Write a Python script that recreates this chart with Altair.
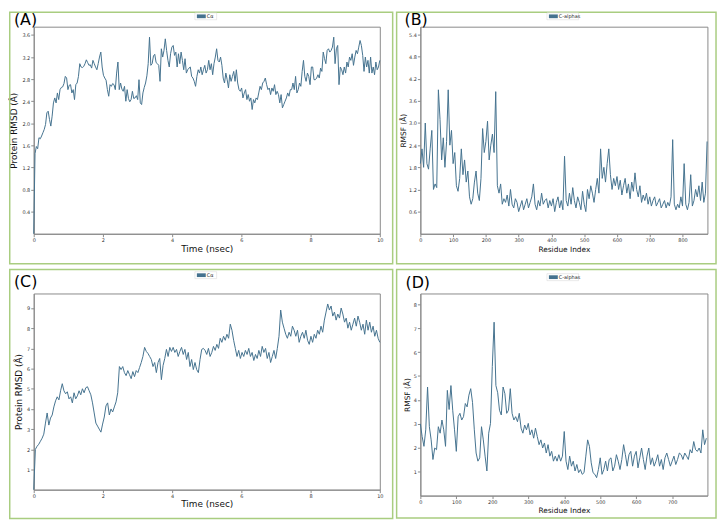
import altair as alt
import numpy as np
import pandas as pd

LINE = "#45728f"
GREEN = "#a9cd80"
FRAME = "#8a8a8a"
FONT = "DejaVu Sans"

# ---------------- data ----------------
a_rmsd = [0.0, 1.45, 1.58, 1.54, 1.74, 1.72, 1.77, 1.83, 1.89, 1.98,
          2.19, 2.22, 2.07, 1.95, 2.13, 2.37, 2.46, 2.37, 2.55, 2.43,
          2.61, 2.65, 2.66, 2.72, 2.85, 2.82, 2.61, 2.69, 2.70, 2.55,
          2.61, 2.43, 2.70, 2.73, 2.85, 3.08, 3.02, 3.01, 3.03, 3.08,
          3.15, 3.10, 3.05, 3.06, 3.00, 3.14, 3.08, 3.02, 2.97, 3.08,
          3.20, 3.29, 3.02, 2.87, 2.82, 2.78, 2.61, 2.49, 2.70, 2.67,
          2.72, 2.70, 2.61, 2.91, 3.11, 2.61, 2.73, 2.62, 2.58, 2.67,
          2.40, 2.61, 2.45, 2.39, 2.43, 2.58, 2.45, 2.46, 2.50, 2.43,
          2.79, 2.37, 2.34, 2.55, 2.65, 2.73, 2.86, 3.08, 3.56, 3.05,
          3.08, 3.22, 3.25, 3.10, 3.08, 3.05,
          2.76, 3.35, 3.20, 3.32, 3.53, 3.32, 3.14, 3.02, 3.26, 3.38,
          3.41, 3.23, 3.29, 3.02, 3.26, 3.08, 3.29, 3.14, 2.97, 3.17,
          2.91, 2.97, 3.00, 3.02, 2.85, 2.82, 2.76, 2.67, 2.85, 2.97,
          2.91, 3.02, 2.88, 2.97, 3.05, 2.91, 2.97, 3.14, 2.97, 3.08,
          2.88, 3.08, 3.20,
          3.35, 3.14, 3.11, 3.20, 3.05, 2.82, 2.73, 2.91, 2.79, 2.64,
          2.88, 2.76, 2.85, 2.94, 2.76, 2.97, 2.73, 2.61, 2.58, 2.64,
          2.46, 2.55, 2.61, 2.43, 2.52, 2.40, 2.46, 2.25, 2.43, 2.37,
          2.46, 2.43, 2.55, 2.67, 2.61, 2.73, 2.76, 2.82, 2.70, 2.61,
          2.64, 2.52, 2.64, 2.58, 2.70, 2.52, 2.58, 2.52, 2.37, 2.52,
          2.28, 2.34, 2.40, 2.46, 2.55, 2.49, 2.61, 2.61, 2.73, 2.61,
          2.85, 2.55, 2.61, 2.73, 2.67, 2.94, 3.14, 2.85, 2.76, 2.91,
          2.85, 2.70, 3.02, 3.02, 2.79, 2.79, 2.82, 2.88, 2.82, 3.00,
          2.94, 3.29, 3.17, 3.08, 3.32, 3.35, 3.29, 3.32, 3.38, 3.56,
          3.08, 3.35, 3.41, 2.70, 3.02, 2.97, 2.88, 3.02, 2.91, 3.11,
          3.02, 3.20, 3.14, 3.26, 3.05, 3.20, 3.32, 3.26, 3.38, 3.50,
          3.41, 3.23, 2.94, 3.20, 3.02, 3.14, 2.91, 3.20, 2.91, 3.02,
          2.88, 3.11, 2.97, 3.02, 3.14]

b_rmsf = [1.9, 2.3, 1.8, 3.0, 1.9, 1.75, 2.3, 2.8, 1.2, 1.35,
          1.25, 3.9, 3.1, 2.0, 2.6, 1.8, 2.5, 3.9, 2.4, 2.8,
          1.9, 2.2, 1.3, 1.15, 1.5, 2.3, 1.6, 2.0, 1.4, 1.7,
          1.0, 0.8, 0.95, 1.4, 1.7, 1.1, 0.9, 1.5, 2.85, 2.2,
          2.5, 3.05, 2.0, 2.4, 2.7, 2.2, 3.85, 1.3, 1.1, 1.35,
          0.8, 0.95, 0.85, 1.05, 0.75, 1.2, 0.8, 0.7, 0.95, 0.85,
          0.6, 0.75, 0.9, 0.65, 0.8, 0.95, 0.7, 0.85, 1.0, 1.35,
          0.8, 0.65, 0.9, 0.75, 1.1, 0.8, 0.9, 0.95, 0.7, 0.9,
          0.75, 0.95, 0.6, 0.85, 1.0, 0.7, 0.9, 0.65, 2.1, 0.9,
          0.75, 1.1, 0.8, 1.25, 0.9, 0.7, 1.0, 0.85, 0.65, 1.15,
          0.8, 0.6, 1.2, 0.95, 1.3, 1.1, 0.85, 1.2, 1.5, 1.1,
          2.3, 1.5, 1.8, 1.4, 1.9, 2.3, 1.6, 1.2, 1.5, 1.3,
          1.55, 1.2, 1.45, 1.05, 1.3, 1.5, 1.1, 1.35, 0.95, 1.4,
          1.15, 1.65, 1.2, 1.0, 1.3, 0.85, 1.05, 0.9, 1.1, 0.8,
          1.0, 0.75, 0.9, 1.0, 0.75, 0.85, 0.95, 0.7, 0.8, 0.9,
          0.7, 0.85, 0.75, 1.0, 2.55, 0.8, 0.65, 0.8, 0.7, 1.0,
          0.75, 1.9, 0.8, 0.65, 0.85, 1.6, 0.75, 0.9, 1.2, 1.0,
          1.3, 0.9, 1.4, 0.85, 1.1, 2.5]

c_rmsd = [0.0, 2.0, 2.15, 2.25, 2.4, 2.55, 2.75, 3.3, 3.8, 3.2,
          3.55, 3.7, 4.1, 4.4, 4.6, 4.45, 4.9, 5.25, 4.9, 4.75,
          4.85, 4.5, 4.6, 4.3, 4.8, 4.5, 4.65, 4.9, 4.7, 5.0,
          4.8, 5.05, 5.1, 4.9, 4.7, 4.3, 3.8, 3.3, 3.15, 3.0,
          2.85, 3.25, 3.6, 4.15, 4.3, 3.7, 4.0, 3.85, 4.1, 4.35,
          4.8, 6.1, 5.95, 6.1, 5.8, 5.65, 5.9, 5.7, 5.5, 5.85,
          5.6, 5.9, 5.8, 6.05, 6.3, 6.6, 7.05, 6.85, 6.75, 6.6,
          6.45, 6.1, 6.3, 5.8, 6.3, 6.5, 5.45, 6.15, 6.5, 6.95,
          6.6, 7.05, 6.85, 7.05, 6.8, 6.95, 6.6, 6.85, 7.05, 6.7,
          6.95, 6.45, 6.8, 6.1, 6.45, 5.95, 6.3, 5.95, 5.8, 6.45,
          6.95, 7.0,
          6.9, 6.7, 7.0, 6.6,
          6.8, 7.1, 6.9, 7.2, 7.0,
          7.5, 7.3, 7.6, 7.4, 7.7,
          7.5, 8.2, 7.9, 7.4, 7.0,
          6.6, 6.9, 6.5, 6.8, 6.6,
          6.9, 6.7, 7.0, 6.6, 6.8,
          6.4, 6.7, 6.5, 6.9, 6.6,
          7.1, 6.8, 7.0, 6.5, 6.8,
          6.3, 6.6, 6.9, 6.5, 7.0,
          7.6, 8.9, 8.3, 8.0, 7.7,
          7.5, 7.8, 7.6, 8.1, 7.9,
          7.6, 7.9, 7.3, 7.6, 7.8,
          7.5, 7.9, 7.4, 7.2, 7.6,
          7.3, 7.7, 7.5, 7.9, 7.7,
          8.1, 7.8, 8.4, 8.8, 9.2,
          8.9, 9.1, 8.6, 8.8, 8.4,
          8.7, 8.5, 9.0, 8.7, 8.3,
          8.5, 8.0, 8.3, 7.9, 8.2,
          8.5, 8.1, 8.6, 8.3, 7.9,
          8.2, 7.7, 8.4, 7.9, 8.3,
          7.8, 8.1, 7.6, 7.9, 7.5, 7.3]

d_rmsf = [3.0, 2.47, 2.06, 2.75, 4.54, 2.88, 2.33, 1.51, 1.99, 1.92,
          2.88, 2.61, 3.16, 2.75, 2.06, 4.4, 3.6, 4.6, 3.57, 2.75,
          1.85, 3.30, 3.44, 3.16, 3.30, 3.85, 3.71, 4.2, 4.47, 3.9,
          2.75, 1.78, 1.44, 1.58, 2.88, 2.33, 1.65, 1.03, 2.61, 3.02,
          5.4, 7.25, 4.6, 4.3, 3.57, 3.37, 4.54, 4.26, 3.44, 3.57,
          4.47, 3.44, 3.16, 3.30, 3.09, 3.44, 2.82, 2.61, 2.95, 2.75,
          3.02, 2.54, 2.75, 2.40, 2.82, 2.47, 2.13, 2.33, 1.99, 2.20,
          1.78, 2.13, 1.65, 1.85, 1.44, 1.65, 1.44, 1.71, 1.44, 1.65,
          2.68, 1.44, 1.09, 1.65, 1.23, 1.44, 1.03, 1.30, 0.96, 1.09,
          0.89, 0.96, 1.65, 2.33, 2.06, 1.37, 0.96, 0.89, 0.75, 1.09,
          1.58, 0.89, 1.09, 1.44, 1.03, 1.51, 1.58, 1.03, 1.23, 1.71,
          1.44, 1.09, 1.51, 2.13, 1.71, 1.23, 1.71, 1.85, 1.23, 1.65,
          1.85, 1.16, 1.58, 1.99, 1.51, 1.09, 1.65, 1.99, 1.30, 1.58,
          1.23, 1.44, 1.71, 1.23, 1.51, 1.09, 1.58, 1.78, 1.51, 1.23,
          1.44, 1.65, 1.30, 1.51, 1.78, 1.71, 1.51, 1.78, 1.65, 1.51,
          1.92, 1.78, 2.26, 1.92, 1.85, 1.99, 1.78, 2.75, 2.13, 2.40]

a_time = np.linspace(0, 10, len(a_rmsd))
c_time = np.linspace(0, 10, len(c_rmsd))
b_res = [5 * i for i in range(len(b_rmsf))]
d_res = [5 * i for i in range(len(d_rmsf))]

time_ticks = [0, 2, 4, 6, 8, 10]
a_yticks = [0.4, 0.8, 1.2, 1.6, 2.0, 2.4, 2.8, 3.2, 3.6]
b_xticks = [0, 100, 200, 300, 400, 500, 600, 700, 800]
b_yticks = [0.6, 1.2, 1.8, 2.4, 3.0, 3.6, 4.2, 4.8, 5.4]
c_yticks = [1, 2, 3, 4, 5, 6, 7, 8, 9]
d_xticks = [0, 100, 200, 300, 400, 500, 600, 700]
d_yticks = [1, 2, 3, 4, 5, 6, 7, 8]

one = pd.DataFrame({"k": [0]})


def deco_rect(x, x2, y, y2, **mark):
    return alt.Chart(one).mark_rect(**mark).encode(
        x=alt.value(x), x2=alt.value(x2), y=alt.value(y), y2=alt.value(y2))


def deco_text(txt, x, y, **mark):
    return alt.Chart(one).mark_text(text=txt, font=FONT, **mark).encode(
        x=alt.value(x), y=alt.value(y))


def panel(xs, ys, xdom, ydom, xticks, yticks, yfmt, xtitle, ytitle,
          w, h, tsize, ytp, xtp, border, label, lab_xy, leg_txt, leg_x, leg_y):
    df = pd.DataFrame({"x": list(xs), "y": list(ys)})
    common = dict(labelFontSize=5, labelColor="#333333", labelFont=FONT,
                  tickSize=3, tickColor=FRAME, domainColor=FRAME, grid=False,
                  titleFontSize=tsize, titleFontWeight="normal",
                  titleColor="#111111", titleFont=FONT, labelPadding=1,
                  labelOverlap=False)
    line = alt.Chart(df).mark_line(color=LINE, strokeWidth=1).encode(
        x=alt.X("x:Q", scale=alt.Scale(domain=xdom, nice=False, zero=False),
                axis=alt.Axis(values=xticks, format="d", title=xtitle,
                              titlePadding=xtp, labelFlush=False, **common)),
        y=alt.Y("y:Q", scale=alt.Scale(domain=ydom, nice=False, zero=False),
                axis=alt.Axis(values=yticks, format=yfmt, title=ytitle,
                              titlePadding=ytp, **common)),
    )
    bx1, bx2, by1, by2 = border
    frame = deco_rect(bx1, bx2, by1, by2, filled=False, stroke=GREEN,
                      strokeWidth=1.5)
    lw = 22 if leg_txt == "Cα" else 32
    box = deco_rect(leg_x, leg_x + lw, leg_y, leg_y + 7, fill="white",
                    stroke="#d4d4d4", strokeWidth=0.5)
    patch = deco_rect(leg_x + 2, leg_x + 11, leg_y + 1.6, leg_y + 5.4,
                      fill=LINE)
    ltxt = deco_text(leg_txt, leg_x + 12, leg_y + 3.6, fontSize=5,
                     align="left", baseline="middle", color="#222222")
    lab = deco_text(label, lab_xy[0], lab_xy[1], fontSize=16, align="left",
                    baseline="top", color="black")
    return alt.layer(frame, line, box, patch, ltxt, lab).properties(
        width=w, height=h)


pa = panel(a_time, a_rmsd, [0, 10], [0, 3.75], time_ticks, a_yticks, ".1f",
           "Time (nsec)", "Protein RMSD (Å)", 350, 209.4, 9, 3, 1.5,
           (-24.25, 363, -14.55, 239.7), "(A)", (-20, -14.8), "Cα", 163, -14)
pb = panel(b_res, b_rmsf, [0, 876], [0, 5.61], b_xticks, b_yticks, ".1f",
           "Residue Index", "RMSF (Å)", 290.3, 209.4, 7.5, 1, 2.5,
           (-24, 299, -14.55, 239.7), "(B)", (-16, -14.8), "C-alphas", 128, -14)
pc = panel(c_time, c_rmsd, [0, 10], [0, 9.72], time_ticks, c_yticks, "d",
           "Time (nsec)", "Protein RMSD (Å)", 350, 198.4, 9, 3.5, 1.5,
           (-24.25, 363, -24.2, 227.5), "(C)", (-20, -19.3), "Cα", 163, -22)
pd_ = panel(d_res, d_rmsf, [0, 798], [0, 8.45], d_xticks, d_yticks, "d",
            "Residue Index", "RMSF (Å)", 290.3, 204.4, 7.5, 1.5, 2.5,
            (-24, 299, -24.2, 227), "(D)", (-15, -18.6), "C-alphas", 128, -20)

chart = alt.concat(
    pa, pb, pc, pd_, columns=2, spacing={"row": 59.8, "column": 41},
    bounds="flush"
).properties(padding=0, background="white").configure(
    font=FONT
).configure_view(stroke=FRAME, strokeWidth=1)

chart.save("out.html", embed_options={"renderer": "svg", "actions": False})
